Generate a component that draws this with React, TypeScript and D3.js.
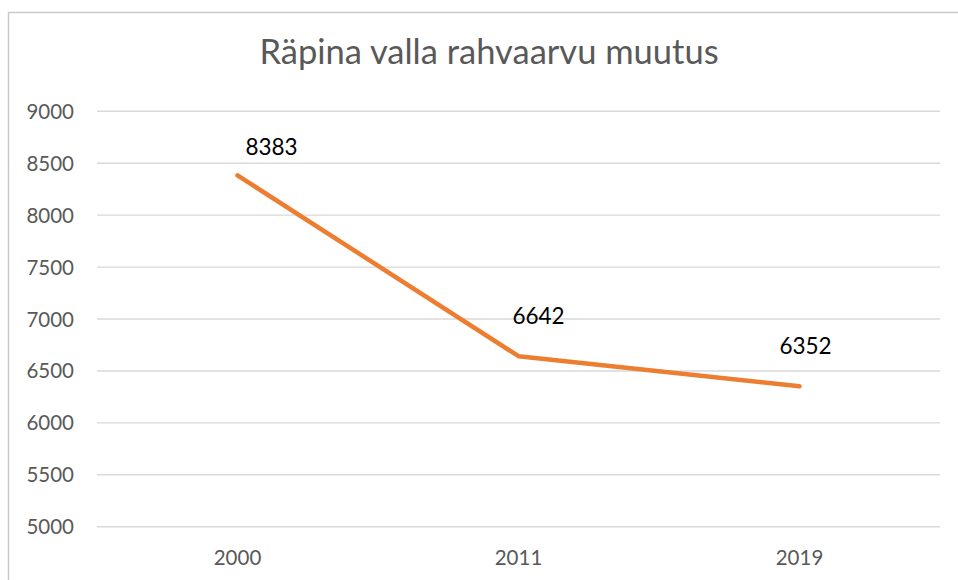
import React from "react";
import * as d3 from "d3";

const categories: string[] = ["2000", "2011", "2019"];
const population: number[] = [8383, 6642, 6352];
const yTicks: number[] = [5000, 5500, 6000, 6500, 7000, 7500, 8000, 8500, 9000];
const titleText = "Räpina valla rahvaarvu muutus";
// manual data-label offsets (dx, dy from point)
const labelDx: number[] = [34, 20, 6];
const labelDy: number[] = [-20, -32, -32];

const W = 958;
const H = 580;
const plotLeft = 97;
const plotRight = 940;
const plotTop = 111.3;
const plotBottom = 526.7;
const FONT = "Lato, 'Open Sans', sans-serif";

export default function App() {
  const x = d3.scaleBand<string>().domain(categories).range([plotLeft, plotRight]);
  const y = d3.scaleLinear().domain([5000, 9000]).range([plotBottom, plotTop]);
  const cx = (c: string) => (x(c) as number) + x.bandwidth() / 2;
  const line = d3
    .line<number>()
    .x((_, i) => cx(categories[i]))
    .y((d) => y(d));

  return (
    <svg
      width={W}
      height={H}
      style={{ position: "absolute", left: 0, top: 0, background: "#fff" }}
    >
      <rect x={8.5} y={12.5} width={1000} height={700} fill="#fff" stroke="#c9c9c9" strokeWidth={1.5} />
      <text
        x={489}
        y={64}
        textAnchor="middle"
        fontFamily={FONT}
        fontSize={34.5}
        fill="#595959"
      >
        {titleText}
      </text>
      {yTicks.map((t) => (
        <g key={t}>
          <line x1={plotLeft} x2={plotRight} y1={y(t)} y2={y(t)} stroke="#d9d9d9" strokeWidth={1.4} />
          <text
            x={74}
            y={y(t) + 7.5}
            textAnchor="end"
            fontFamily={FONT}
            fontSize={20.5}
            fill="#595959"
          >
            {t}
          </text>
        </g>
      ))}
      {categories.map((c) => (
        <text
          key={c}
          x={cx(c)}
          y={565}
          textAnchor="middle"
          fontFamily={FONT}
          fontSize={20.5}
          fill="#595959"
        >
          {c}
        </text>
      ))}
      <path
        d={line(population) || ""}
        fill="none"
        stroke="#ED7D31"
        strokeWidth={4.5}
        strokeLinecap="round"
        strokeLinejoin="round"
      />
      {population.map((v, i) => (
        <text
          key={i}
          x={cx(categories[i]) + labelDx[i]}
          y={y(v) + labelDy[i]}
          textAnchor="middle"
          fontFamily={FONT}
          fontSize={22.5}
          fill="#000"
        >
          {v}
        </text>
      ))}
    </svg>
  );
}
